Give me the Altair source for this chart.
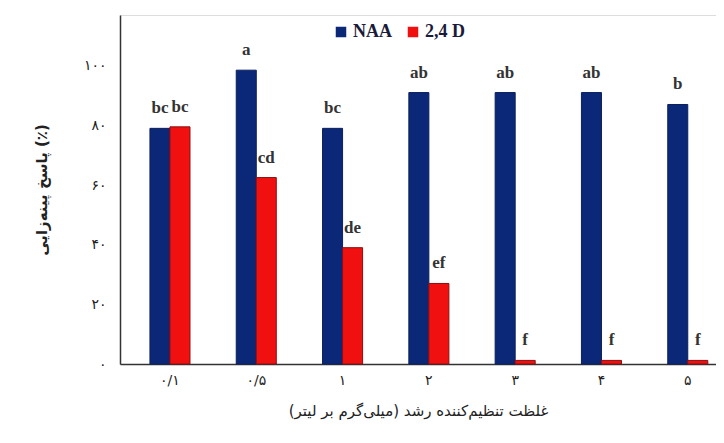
import altair as alt
import pandas as pd

concentrations = ["۰/۱", "۰/۵", "۱", "۲", "۳", "۴", "۵"]
naa_values = [79, 98.5, 79, 91, 91, 91, 87]
d24_values = [79.5, 62.5, 39, 27, 1.2, 1.2, 1.2]
naa_letters = ["bc", "a", "bc", "ab", "ab", "ab", "b"]
d24_letters = ["bc", "cd", "de", "ef", "f", "f", "f"]
series = ["NAA", "2,4 D"]
colors = ["#0b2878", "#f01010"]
y_ticks = [0, 20, 40, 60, 80, 100]
y_tick_labels = ["۰", "۲۰", "۴۰", "۶۰", "۸۰", "۱۰۰"]

rows = []
for c, v, l in zip(concentrations, naa_values, naa_letters):
    rows.append({"conc": c, "series": series[0], "value": v, "letter": l})
for c, v, l in zip(concentrations, d24_values, d24_letters):
    rows.append({"conc": c, "series": series[1], "value": v, "letter": l})
df = pd.DataFrame(rows)

label_expr = "{" + ",".join(f"'{t}':'{s}'" for t, s in zip(y_ticks, y_tick_labels)) + "}[datum.value]"
serif = "Liberation Serif"

x_enc = alt.X(
    "conc:N",
    sort=concentrations,
    scale=alt.Scale(paddingInner=0.536, paddingOuter=0.221, align=0.785),
    axis=alt.Axis(
        title="غلظت تنظیم‌کننده رشد (میلی‌گرم بر لیتر)",
        titleFont="DejaVu Sans",
        titleFontSize=15,
        titleFontWeight="normal",
        titleColor="#222",
        titlePadding=16,
        labelFont="DejaVu Sans",
        labelFontSize=14,
        labelColor="#222",
        labelAngle=0,
        labelPadding=9,
        ticks=False,
        domainColor="#333",
        domainWidth=1.5,
    ),
)
xoff = alt.XOffset("series:N", sort=series, scale=alt.Scale(paddingInner=0, paddingOuter=0))
y_enc = alt.Y(
    "value:Q",
    scale=alt.Scale(domain=[0, 117], nice=False),
    axis=alt.Axis(
        title="پاسخ پینه‌زایی (٪)",
        titleFont="DejaVu Sans",
        titleFontSize=15,
        titleFontWeight="bold",
        titleColor="#222",
        titlePadding=34,
        values=y_ticks,
        labelExpr=label_expr,
        labelFont="DejaVu Sans",
        labelFontSize=14,
        labelColor="#222",
        labelPadding=14,
        ticks=False,
        grid=False,
        domainColor="#333",
        domainWidth=1.5,
    ),
)

bars = alt.Chart(df).mark_bar(strokeWidth=1).encode(
    x=x_enc,
    xOffset=xoff,
    y=y_enc,
    color=alt.Color(
        "series:N",
        sort=series,
        scale=alt.Scale(domain=series, range=colors),
        legend=alt.Legend(
            title=None,
            orient="none",
            legendX=212,
            legendY=8,
            direction="horizontal",
            symbolType="square",
            symbolSize=110,
            symbolStrokeWidth=0,
            labelFont=serif,
            labelFontSize=18,
            labelFontWeight="bold",
            labelColor="#1a1a3a",
            columnPadding=12,
            labelOffset=3,
        ),
    ),
    stroke=alt.Stroke(
        "series:N", sort=series,
        scale=alt.Scale(domain=series, range=["#0a1f5c", "#8a1010"]), legend=None
    ),
)

letters = alt.Chart(df).mark_text(
    font=serif, fontSize=17, fontWeight="bold", color="#333",
    baseline="alphabetic", dy=-15
).encode(
    x=alt.X("conc:N", sort=concentrations),
    xOffset=alt.XOffset("series:N", sort=series),
    y="value:Q",
    text="letter:N",
)

chart = (
    alt.layer(bars, letters)
    .properties(
        width=596,
        height=349,
        autosize=alt.AutoSizeParams(type="none"),
        padding={"left": 112, "top": 7, "right": 0, "bottom": 68},
    )
    .configure_view(stroke=None)
    .configure(background="white")
)

chart.save("out.html", embed_options={"renderer": "svg", "actions": False})
